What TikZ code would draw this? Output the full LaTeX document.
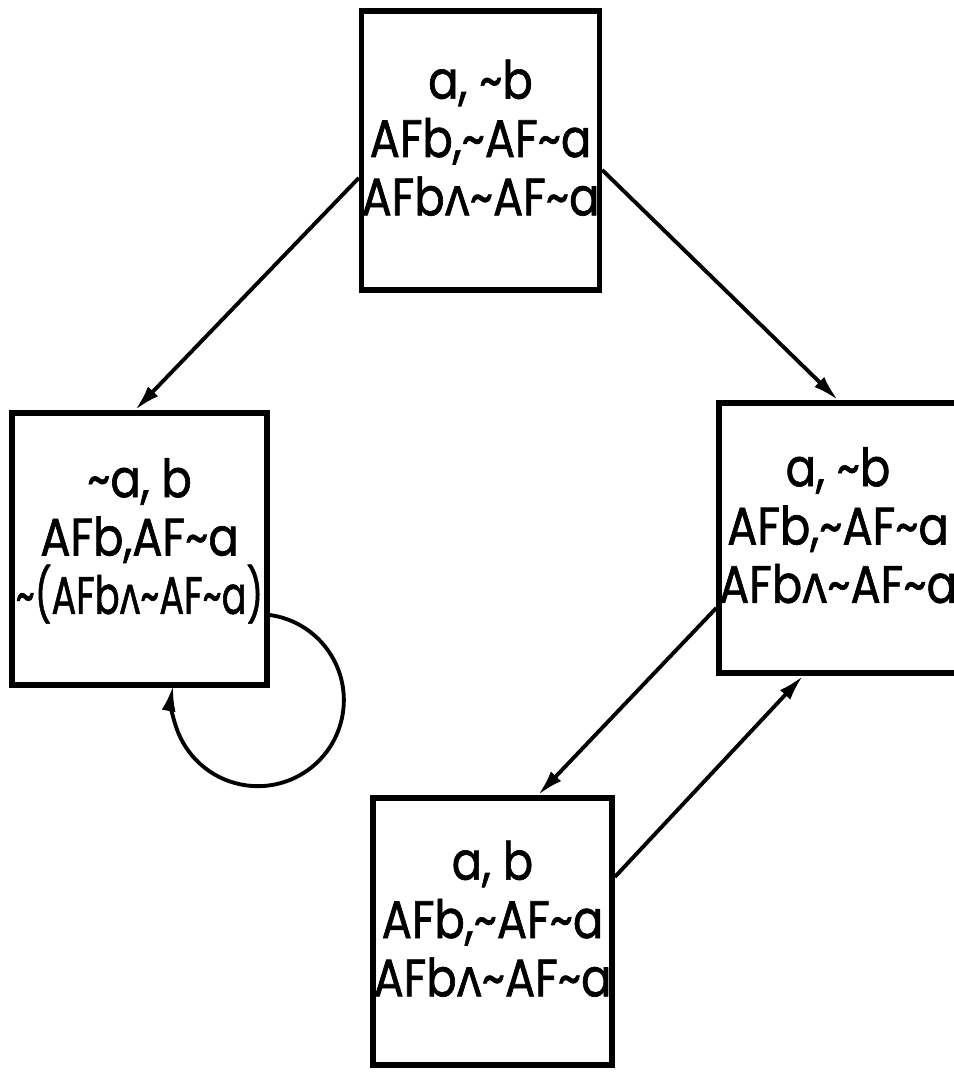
\documentclass[tikz,border=0pt]{standalone}
\usepackage{fontspec}
\usepackage{graphicx}
\setmainfont{Poppins}[FakeStretch=0.85, FakeBold=1.2]
\usetikzlibrary{arrows.meta}
\newcommand{\nega}{\textasciitilde}
\newcommand{\conj}{\rotatebox[origin=c]{180}{v}}
\begin{document}
\begin{tikzpicture}[
        statebox/.style = {draw, line width = 1.6pt, rectangle, inner sep = 0pt, align = center,
            text depth = 0.26cm, font = \fontsize{15}{16.6}\selectfont},
        trans/.style = {line width = 1.1pt, -{Latex[length = 0.26cm, width = 0.14cm]}}
    ]
        \useasboundingbox (0, 0) rectangle (9.54, 10.74);
        \node[statebox, minimum width = 2.37cm, minimum height = 2.79cm] (s1) at (4.805, 9.235)
            {a, \nega b\\AFb,\nega AF\nega a\\AFb\conj\nega AF\nega a};
        \node[statebox, minimum width = 2.55cm, minimum height = 2.72cm] (s2) at (1.395, 5.25)
            {\nega a, b\\AFb,AF\nega a\\\scalebox{0.82}[1]{\nega(AFb\conj\nega AF\nega a)}};
        \node[statebox, minimum width = 2.26cm, minimum height = 2.70cm] (s3) at (8.38, 5.36)
            {a, \nega b\\AFb,\nega AF\nega a\\AFb\conj\nega AF\nega a};
        \node[statebox, minimum width = 2.39cm, minimum height = 2.67cm] (s4) at (4.925, 1.425)
            {a, b\\AFb,\nega AF\nega a\\AFb\conj\nega AF\nega a};
        \draw[trans] ([yshift = -0.275cm]s1.west) -- ([xshift = -0.045cm]s2.north);
        \draw[trans] ([yshift = -0.195cm]s1.east) -- (s3.north);
        \draw[trans] ([yshift = -0.70cm]s3.west) -- ([xshift = 0.455cm]s4.north);
        \draw[trans] ([yshift = 0.545cm]s4.east) -- ([xshift = -0.35cm]s3.south);
        % self loop on s2
        \draw[trans] ([yshift = -0.66cm]s2.east) arc[start angle = 82, end angle = -190, radius = 0.86cm];
    \end{tikzpicture}
\end{document}
